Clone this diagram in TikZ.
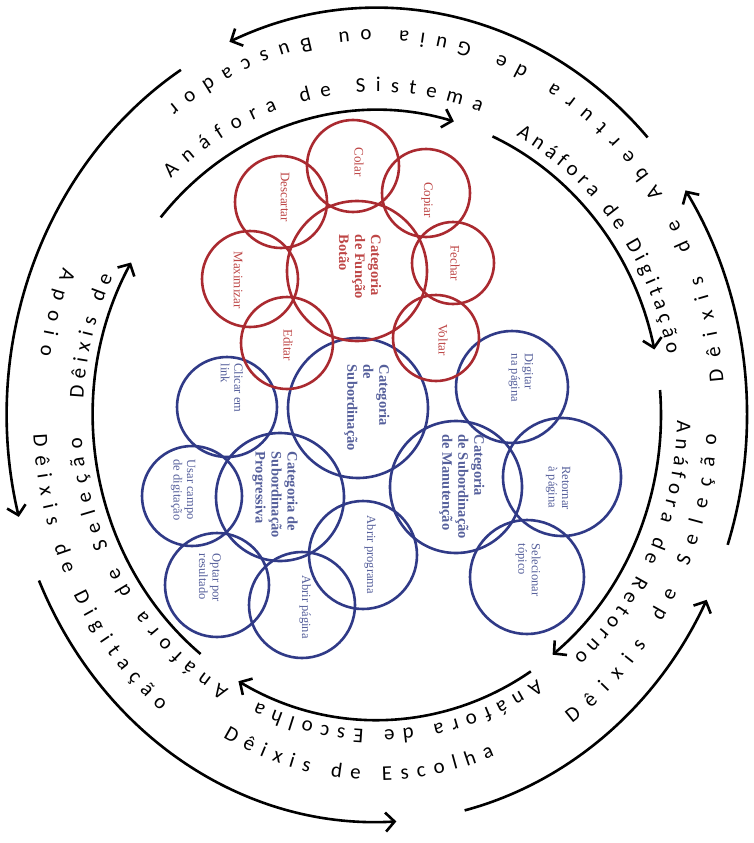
\documentclass[tikz,border=0pt]{standalone}
\usepackage{fontspec}
\setmainfont{Liberation Serif}
\newfontfamily\ringfamily{Carlito}
\usetikzlibrary{arrows.meta,decorations.text}
\definecolor{ringred}{RGB}{170,42,48}
\definecolor{textred}{RGB}{190,70,70}
\definecolor{ringblue}{RGB}{48,58,135}
\definecolor{textblue}{RGB}{85,95,155}
\newcommand\ringfont{\ringfamily\fontsize{21}{24}\selectfont}
\tikzset{
  arcline/.style={line width=2.6pt,-{Straight Barb[length=9pt,width=19pt]}},
  redring/.style={draw=ringred,line width=2.6pt},
  bluering/.style={draw=ringblue,line width=2.6pt},
  redlabel/.style={text=textred,rotate=-90,align=left,inner sep=0pt,font=\fontsize{13}{14}\selectfont},
  redhead/.style={redlabel,font=\bfseries\fontsize{14.5}{16}\selectfont},
  bluelabel/.style={text=textblue,rotate=-90,align=left,inner sep=0pt,font=\fontsize{12.5}{13.5}\selectfont},
  bluehead/.style={bluelabel,font=\bfseries\fontsize{14.5}{16}\selectfont},
  ringtext/.style={decorate,decoration={text along path,text align={fit to path},text={|\ringfont|#1}}}
}

\begin{document}
\begin{tikzpicture}[x=1pt,y=1pt]
\def\cx{377}
\def\cy{-415}
\def\orx{370 }
\def\ory{407 }
\def\irx{284 }
\def\iry{305 }
\useasboundingbox[fill=white] (0,0) rectangle (753,-843);
%% Outer arcs (counterclockwise)
\draw[arcline] (\cx,\cy) ++(43:\orx and \ory) arc[start angle=43,end angle=113.5,x radius=\orx,y radius=\ory];
\draw[arcline] (\cx,\cy) ++(122:\orx and \ory) arc[start angle=122,end angle=194.5,x radius=\orx,y radius=\ory];
\draw[arcline] (\cx,\cy) ++(204:\orx and \ory) arc[start angle=204,end angle=273,x radius=\orx,y radius=\ory];
\draw[arcline] (\cx,\cy) ++(283.7:\orx and \ory) arc[start angle=283.7,end angle=333,x radius=\orx,y radius=\ory];
\draw[arcline] (\cx,\cy) ++(-18.6:\orx and \ory) arc[start angle=-18.6,end angle=33.5,x radius=\orx,y radius=\ory];
%% Inner arcs (clockwise)
\draw[arcline] (\cx,\cy) ++(139.6:\irx and \iry) arc[start angle=139.6,end angle=74.3,x radius=\irx,y radius=\iry];
\draw[arcline] (\cx,\cy) ++(66:\irx and \iry) arc[start angle=66,end angle=12.4,x radius=\irx,y radius=\iry];
\draw[arcline] (\cx,\cy) ++(4.7:\irx and \iry) arc[start angle=4.7,end angle=-51.8,x radius=\irx,y radius=\iry];
\draw[arcline] (\cx,\cy) ++(-57.2:\irx and \iry) arc[start angle=-57.2,end angle=-119.2,x radius=\irx,y radius=\iry];
\draw[arcline] (\cx,\cy) ++(231.6:\irx and \iry) arc[start angle=231.6,end angle=150,x radius=\irx,y radius=\iry];
%% Anáfora texts (inner ring)
\path[ringtext={Anáfora de Sistema}] (\cx,\cy) ++(133:302 and 323) arc[start angle=133,end angle=70,x radius=302,y radius=323];
\path[ringtext={Anáfora de Digitação}] (\cx,\cy) ++(62:296 and 316) arc[start angle=62,end angle=11,x radius=296,y radius=316];
\path[ringtext={Anáfora de Retorno}] (\cx,\cy) ++(-1:300 and 321) arc[start angle=-1,end angle=-49,x radius=300,y radius=321];
\path[ringtext={Anáfora de Escolha}] (\cx,\cy) ++(-57:294 and 315) arc[start angle=-57,end angle=-114,x radius=294,y radius=315];
\path[ringtext={Anáfora de Seleção}] (\cx,\cy) ++(240:296 and 317) arc[start angle=240,end angle=184,x radius=296,y radius=317];
\path[ringtext={Dêixis de}] (\cx,\cy) ++(177:294 and 315) arc[start angle=177,end angle=154,x radius=294,y radius=315];
%% Dêixis texts (outer ring)
\path[ringtext={Dêixis de Seleção}] (\cx,\cy) ++(-55:340 and 377) arc[start angle=-55,end angle=-3,x radius=340,y radius=377];
\path[ringtext={Dêixis de Abertura de Guia ou Buscador}] (\cx,\cy) ++(5:348 and 385) arc[start angle=5,end angle=127,x radius=348,y radius=385];
\path[ringtext={Dêixis de Escolha}] (\cx,\cy) ++(242:328 and 365) arc[start angle=242,end angle=291,x radius=328,y radius=365];
\path[ringtext={Dêixis de Digitação}] (\cx,\cy) ++(183:344 and 381) arc[start angle=183,end angle=231,x radius=344,y radius=381];
\path[ringtext={Apoio}] (\cx,\cy) ++(157:341 and 378) arc[start angle=157,end angle=171,x radius=341,y radius=378];
%% Blue circles
\draw[bluering] (358,-408) circle[radius=70];
\draw[bluering] (227,-407) circle[radius=50];
\draw[bluering] (280,-497) circle[radius=64];
\draw[bluering] (192,-496) circle[radius=50];
\draw[bluering] (217,-585) circle[radius=52];
\draw[bluering] (302,-605) circle[radius=53];
\draw[bluering] (363,-555) circle[radius=54];
\draw[bluering] (456,-487) circle[radius=66];
\draw[bluering] (512,-387) circle[radius=56];
\draw[bluering] (562,-477) circle[radius=59];
\draw[bluering] (527,-577) circle[radius=57];
%% Red circles
\draw[redring] (357,-271) circle[radius=70];
\draw[redring] (353,-166) circle[radius=46];
\draw[redring] (426,-193) circle[radius=44];
\draw[redring] (453,-263) circle[radius=41];
\draw[redring] (436,-338) circle[radius=43];
\draw[redring] (287,-343) circle[radius=46];
\draw[redring] (250,-279) circle[radius=48];
\draw[redring] (281,-202) circle[radius=46];
%% Red labels
\node[redhead] (botao) at (360,-267) {Categoria\\de Função\\Botão};
\node[redlabel] (colar) at (359,-162) {Colar};
\node[redlabel] (copiar) at (427,-200) {Copiar};
\node[redlabel] (fechar) at (455,-263) {Fechar};
\node[redlabel] (voltar) at (443,-340) {Voltar};
\node[redlabel] (editar) at (288,-345) {Editar};
\node[redlabel] (maximizar) at (238,-280) {Maximizar};
\node[redlabel] (descartar) at (285,-197) {Descartar};
%% Blue labels
\node[bluehead] (subord) at (367,-408) {Categoria\\de\\Subordinação};
\node[bluehead] (progr) at (275,-495) {Categoria de\\Subordinação\\Progressiva};
\node[bluehead] (manut) at (462,-487) {Categoria\\de Subordinação\\de Manutenção};
\node[bluelabel] (clicar) at (232,-388) {Clicar em\\link};
\node[bluelabel] (usar) at (183,-490) {Usar campo\\de digitação};
\node[bluelabel] (optar) at (210,-578) {Optar por\\resultado};
\node[bluelabel] (abrirpag) at (305,-607) {Abrir página};
\node[bluelabel] (abrirprog) at (370,-555) {Abrir programa};
\node[bluelabel] (digitar) at (521,-378) {Digitar\\na página};
\node[bluelabel] (retornar) at (558,-488) {Retornar\\à página};
\node[bluelabel] (selecionar) at (528,-570) {Selecionar\\tópico};
\end{tikzpicture}
\end{document}
